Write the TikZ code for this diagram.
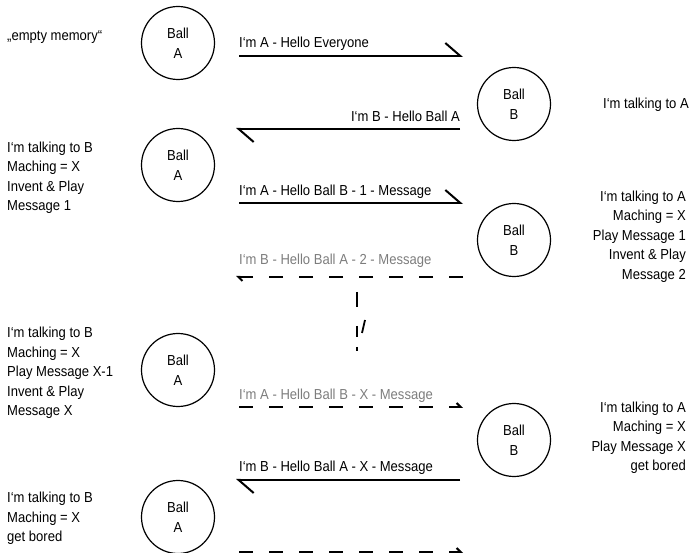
\documentclass[tikz,border=0pt]{standalone}
\usepackage{fontspec}
\setmainfont{Liberation Sans}[FakeStretch=0.9]
\usepackage{tikz}
\usetikzlibrary{arrows.meta, positioning, calc}
\usepackage{xcolor}
\definecolor{msggray}{RGB}{125,125,125}

\begin{document}
\begin{tikzpicture}[
  x=1pt, y=-1pt,
  ball/.style={draw, circle, line width=1.2pt, minimum size=73pt,
               inner sep=0pt, align=center,
               font=\fontsize{14.5}{20}\selectfont},
  note/.style={inner sep=0pt, font=\fontsize{14.5}{19.5}\selectfont},
  msg/.style={line width=2pt,
              -{Straight Barb[left, length=15pt, width=26pt]}},
  msgdash/.style={line width=2pt, dash pattern=on 14pt off 16pt,
                  -{Straight Barb[left, length=4pt, width=8pt]}}
]
\useasboundingbox (0,0) rectangle (689,553);

% balls
\node[ball] (a1) at (178,43) {Ball\\A};
\node[ball] (b1) at (514,104) {Ball\\B};
\node[ball] (a2) at (178,165) {Ball\\A};
\node[ball] (b2) at (514,240) {Ball\\B};
\node[ball] (a3) at (178,370) {Ball\\A};
\node[ball] (b3) at (514,440) {Ball\\B};
\node[ball] (a4) at (178,517) {Ball\\A};

% state of each ball (base = last line)
\node[note, anchor=base west] (s1) at (7,41) {„empty memory“};
\node[note, anchor=base west] (t1) at (603,108.5) {I‘m talking to A};
\node[note, anchor=base west, align=left] (s2) at (7,211)
  {I‘m talking to B\\Maching = X\\Invent \& Play\\Message 1};
\node[note, anchor=base east, align=right] (t2) at (686,279.5)
  {I‘m talking to A\\Maching = X\\Play Message 1\\Invent \& Play\\Message 2};
\node[note, anchor=base west, align=left] (s3) at (7,416)
  {I‘m talking to B\\Maching = X\\Play Message X-1\\Invent \& Play\\Message X};
\node[note, anchor=base east, align=right] (t3) at (686,471)
  {I‘m talking to A\\Maching = X\\Play Message X\\get bored};
\node[note, anchor=base west, align=left] (s4) at (7,541.5)
  {I‘m talking to B\\Maching = X\\get bored};

% message ends
\coordinate (m1s) at (239,56);  \coordinate (m1e) at (463,56);
\coordinate (m2s) at (460,129); \coordinate (m2e) at (236,129);
\coordinate (m3s) at (239,203); \coordinate (m3e) at (463,203);
\coordinate (m4s) at (463,277); \coordinate (m4e) at (236,277);
\coordinate (m5s) at (239,407); \coordinate (m5e) at (463,407);
\coordinate (m6s) at (460,480); \coordinate (m6e) at (236,480);
\coordinate (m7s) at (239,552); \coordinate (m7e) at (463,552);

\draw[msg] (m1s) -- (m1e);
\node[note, anchor=base west] (l1) at (239,47.5) {I‘m A - Hello Everyone};
\draw[msg] (m2s) -- (m2e);
\node[note, anchor=base east] (l2) at (460,121.5) {I‘m B - Hello Ball A};
\draw[msg] (m3s) -- (m3e);
\node[note, anchor=base west] (l3) at (239,195.5)
  {I‘m A - Hello Ball B - 1 - Message};
\draw[msgdash] (m4s) -- (m4e);
\node[note, anchor=base west, text=msggray] (l4) at (239,264.5)
  {I‘m B - Hello Ball A - 2 - Message};

% skipped messages
\coordinate (gapt) at (357,292);
\coordinate (gapb) at (357,351);
\draw[line width=2pt, dash pattern=on 15pt off 19pt on 11pt off 10pt on 4pt]
  (gapt) -- (gapb);
\draw[line width=1.8pt] ($(gapt)+(5,41)$) -- ($(gapt)+(8,28)$);

\draw[msgdash] (m5s) -- (m5e);
\node[note, anchor=base west, text=msggray] (l5) at (239,399.5)
  {I‘m A - Hello Ball B - X - Message};
\draw[msg] (m6s) -- (m6e);
\node[note, anchor=base west] (l6) at (239,471.5)
  {I‘m B - Hello Ball A - X - Message};
\draw[msgdash] (m7s) -- (m7e);
\end{tikzpicture}
\end{document}
